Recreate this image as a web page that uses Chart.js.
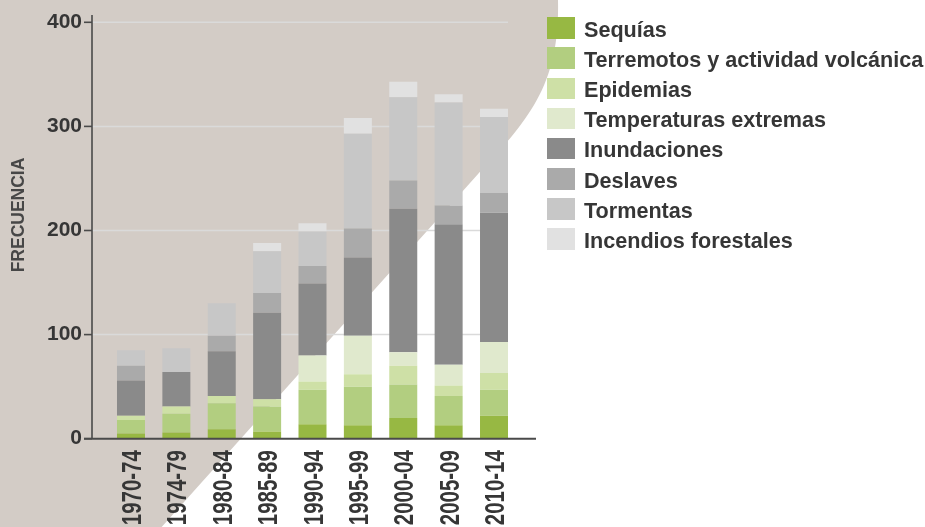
<!DOCTYPE html>
<html lang="es">
<head>
<meta charset="utf-8">
<title>Frecuencia de desastres por quinquenio</title>
<script src="https://cdn.jsdelivr.net/npm/chart.js@4.4.1/dist/chart.umd.min.js"></script>
<style>
  html, body { margin: 0; padding: 0; background: #fff; }
  #wrap { position: relative; width: 925px; height: 527px; overflow: hidden; }
  #grafico { position: absolute; left: 0; top: 0; }
  #leyenda { position: absolute; left: 547px; top: 0; font: bold 21.6px 'Liberation Sans', Arial, sans-serif; color: #363636; }
  .fila { position: absolute; left: 0; height: 22px; white-space: nowrap; }
  .caja { position: absolute; left: 0; top: 0; width: 28px; height: 21.5px; }
  .txt { position: absolute; left: 37px; top: -0.5px; line-height: 22px; padding-top: 2px; }
</style>
</head>
<body>
<div id="wrap">
  <canvas id="grafico" width="925" height="527"></canvas>
  <div id="leyenda"></div>
</div>
<script>
// ---- datos ----
const periodos = ['1970-74', '1974-79', '1980-84', '1985-89', '1990-94', '1995-99', '2000-04', '2005-09', '2010-14'];
const ticksY = [0, 100, 200, 300, 400];

const sequias       = [5, 6, 9, 7, 14, 13, 20, 13, 22];
const terremotos    = [13, 18, 25, 24, 33, 37, 32, 28, 25];
const epidemias     = [4, 7, 7, 7, 8, 12, 18, 10, 16];
const temperaturas  = [0, 0, 0, 0, 25, 37, 13, 20, 30];
const inundaciones  = [34, 33, 43, 83, 69, 75, 138, 135, 124];
const deslaves      = [14, 0, 15, 19, 17, 28, 27, 18, 19];
const tormentas     = [15, 23, 31, 40, 33, 91, 80, 99, 73];
const incendios     = [0, 0, 0, 8, 8, 15, 15, 8, 8];

const series = [
  { nombre: 'Sequías',                          valores: sequias,      color: '#97b843' },
  { nombre: 'Terremotos y actividad volcánica', valores: terremotos,   color: '#b2ce80' },
  { nombre: 'Epidemias',                        valores: epidemias,    color: '#cee0a6' },
  { nombre: 'Temperaturas extremas',            valores: temperaturas, color: '#e0e9cd' },
  { nombre: 'Inundaciones',                     valores: inundaciones, color: '#8a8a8a' },
  { nombre: 'Deslaves',                         valores: deslaves,     color: '#aaaaaa' },
  { nombre: 'Tormentas',                        valores: tormentas,    color: '#c7c7c7' },
  { nombre: 'Incendios forestales',             valores: incendios,    color: '#e1e1e1' },
];

const FUENTE = "'Liberation Sans', Arial, sans-serif";
const EJE_X = 92;       // línea vertical del eje
const FIN_EJE = 536;    // fin de la línea horizontal
const FIN_GRID = 508;
const TAM_X = 28;       // etiquetas del eje x, algo estrechas

// fondo beige curvo + rejilla + ejes dibujados a mano
const decorado = {
  id: 'decorado',
  beforeDraw(chart) {
    const ctx = chart.ctx;
    ctx.save();
    ctx.fillStyle = '#ffffff';
    ctx.fillRect(0, 0, chart.width, chart.height);
    ctx.fillStyle = '#d3ccc6';
    ctx.beginPath();
    ctx.moveTo(0, 0);
    ctx.lineTo(558, 0);
    ctx.bezierCurveTo(560, 90, 525, 123, 470, 183);
    ctx.lineTo(150, 540);
    ctx.lineTo(0, 540);
    ctx.closePath();
    ctx.fill();
    ctx.restore();
  },
  beforeDatasetsDraw(chart) {
    const ctx = chart.ctx, y = chart.scales.y;
    ctx.save();
    ctx.strokeStyle = '#dadada';
    ctx.lineWidth = 1.5;
    ticksY.slice(1).forEach(v => {
      const py = y.getPixelForValue(v);
      ctx.beginPath();
      ctx.moveTo(EJE_X, py);
      ctx.lineTo(FIN_GRID, py);
      ctx.stroke();
    });
    ctx.restore();
  },
  afterDatasetsDraw(chart) {
    const ctx = chart.ctx, y = chart.scales.y;
    const base = y.getPixelForValue(0);
    ctx.save();
    ctx.strokeStyle = '#4a4a4a';
    ctx.lineWidth = 1.6;
    ctx.beginPath();
    ctx.moveTo(EJE_X, 15);
    ctx.lineTo(EJE_X, base);
    ctx.stroke();
    ctx.lineWidth = 2;
    ctx.beginPath();
    ctx.moveTo(84, base);
    ctx.lineTo(FIN_EJE, base);
    ctx.stroke();
    ctx.lineWidth = 1.6;
    ticksY.forEach(v => {
      const py = y.getPixelForValue(v);
      ctx.beginPath();
      ctx.moveTo(84, py);
      ctx.lineTo(EJE_X, py);
      ctx.stroke();
    });
    ctx.restore();
  },
  afterDraw(chart) {
    const ctx = chart.ctx, x = chart.scales.x;
    const base = chart.scales.y.getPixelForValue(0);
    ctx.save();
    ctx.fillStyle = '#474747';
    ctx.font = 'bold 17.5px ' + FUENTE;
    ctx.textAlign = 'center';
    ctx.textBaseline = 'middle';
    ctx.translate(19.5, 215);
    ctx.rotate(-Math.PI / 2);
    ctx.fillText('FRECUENCIA', 0, 0);
    ctx.restore();

    // periodos girados 90°, comprimidos a lo largo del texto
    ctx.save();
    ctx.fillStyle = '#363636';
    ctx.font = 'bold ' + TAM_X + 'px ' + FUENTE;
    ctx.textAlign = 'right';
    ctx.textBaseline = 'alphabetic';
    periodos.forEach((p, i) => {
      ctx.save();
      ctx.translate(x.getPixelForValue(i), base + 11.5);
      ctx.rotate(-Math.PI / 2);
      ctx.scale(0.73, 1);
      ctx.fillText(p, 0, TAM_X * 0.36);
      ctx.restore();
    });
    ctx.restore();
  }
};

new Chart(document.getElementById('grafico'), {
  type: 'bar',
  data: {
    labels: periodos,
    datasets: series.map(s => ({
      label: s.nombre,
      data: s.valores,
      backgroundColor: s.color,
      borderWidth: 0,
      barPercentage: 1,
      categoryPercentage: 0.617,
    }))
  },
  options: {
    responsive: false,
    animation: false,
    layout: { padding: { top: 22.3, right: 408.3, bottom: 0, left: 0 } },
    plugins: {
      legend: { display: false },
      tooltip: { enabled: false }
    },
    scales: {
      x: {
        stacked: true,
        grid: { display: false, drawTicks: false },
        border: { display: false },
        ticks: { display: false },
        afterFit: s => { s.height = 88.3; }
      },
      y: {
        stacked: true,
        min: 0,
        max: 400,
        grid: { display: false, drawTicks: true, tickLength: 25.8 },
        border: { display: false },
        ticks: {
          stepSize: 100,
          color: '#363636',
          font: { family: FUENTE, size: 21, weight: 'bold' },
          padding: 0.5,
        },
        afterFit: s => { s.width = 108.3; }
      }
    }
  },
  plugins: [decorado]
});

// leyenda
const leyenda = document.getElementById('leyenda');
series.forEach((s, i) => {
  const fila = document.createElement('div');
  fila.className = 'fila';
  fila.style.top = (17.3 + 30.15 * i) + 'px';
  const caja = document.createElement('div');
  caja.className = 'caja';
  caja.style.background = s.color;
  const txt = document.createElement('span');
  txt.className = 'txt';
  txt.textContent = s.nombre;
  fila.appendChild(caja);
  fila.appendChild(txt);
  leyenda.appendChild(fila);
});
</script>
</body>
</html>
